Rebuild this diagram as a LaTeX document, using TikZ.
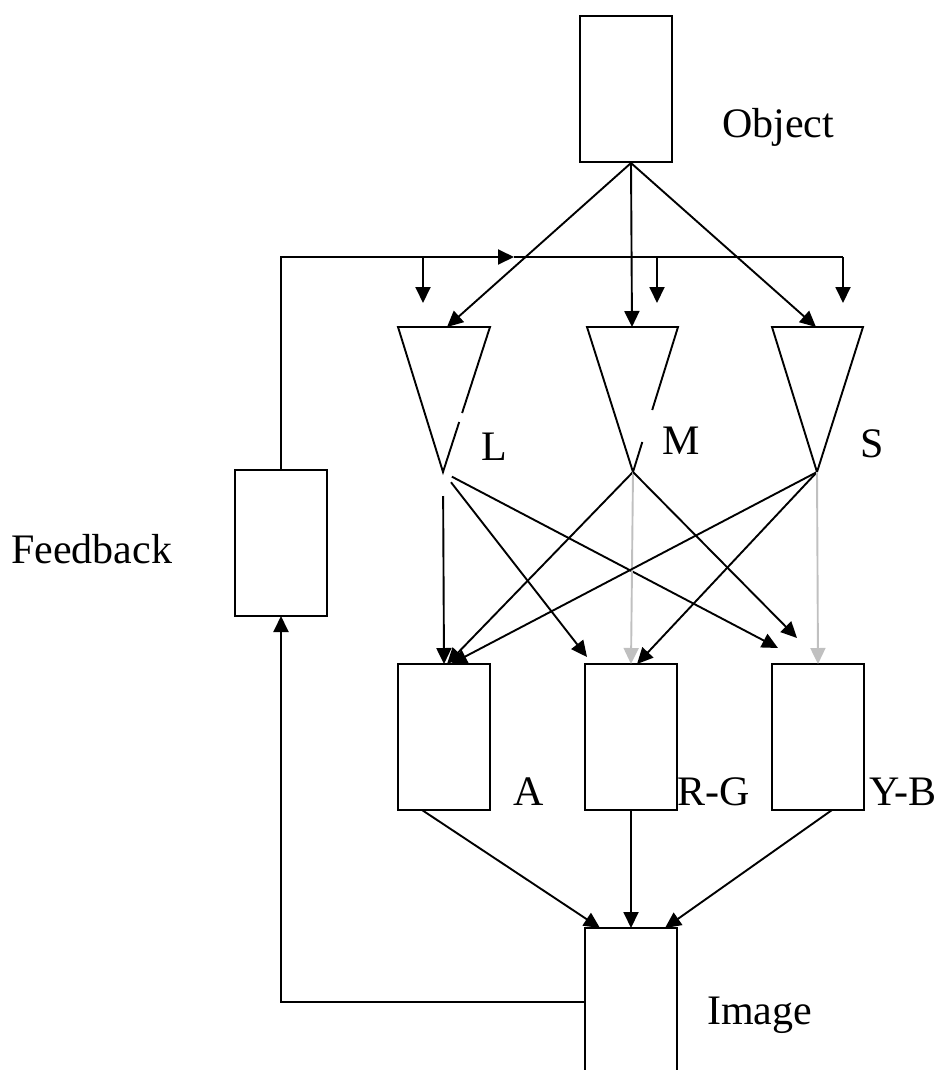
\documentclass[tikz,border=0pt]{standalone}
\usepackage{fontspec}
\setmainfont{Liberation Serif}
\usetikzlibrary{arrows.meta}
\definecolor{lightline}{RGB}{192,192,192}
\begin{document}
\begin{tikzpicture}[x=1pt,y=-1pt,
  box/.style={draw, line width=1.9pt, minimum width=92pt, minimum height=146pt,
    inner sep=0pt, outer sep=0pt, anchor=north west},
  edge/.style={line width=1.9pt},
  arr/.style={line width=1.9pt, -{Triangle[length=16pt,width=15pt]}},
  grayarr/.style={arr, draw=lightline, fill=lightline},
  lab/.style={anchor=base west, inner sep=0pt, font=\fontsize{42}{46}\selectfont}]
\useasboundingbox (0,0) rectangle (949,1070);
\clip (0,0) rectangle (949,1070);

% boxes
\node[box] (obj) at (580,16) {};
\node[box] (fb)  at (235,470) {};
\node[box] (A)   at (398,664) {};
\node[box] (RG)  at (585,664) {};
\node[box] (YB)  at (772,664) {};
\node[box, minimum height=170pt] (img) at (585,928) {};

% labels
\node[lab] (tObj) at (722,138) {Object};
\node[lab] (tFb)  at (11,563)  {Feedback};
\node[lab] (tL)   at (481,460) {L};
\node[lab] (tM)   at (662,454) {M};
\node[lab] (tS)   at (860,457) {S};
\node[lab] (tA)   at (513,805) {A};
\node[lab] (tRG)  at (677,805) {R-G};
\node[lab] (tYB)  at (869,805) {Y-B};
\node[lab] (tImg) at (707,1024) {Image};

% receptor triangles
\coordinate (Ltl) at (398,327); \coordinate (Ltr) at (490,327); \coordinate (Lapex) at (443,472);
\coordinate (Mtl) at (587,327); \coordinate (Mtr) at (678,327); \coordinate (Mapex) at (633,472);
\coordinate (Stl) at (772,327); \coordinate (Str) at (863,327); \coordinate (Sapex) at (817,472);
\draw[edge] (462.1,413) -- (Ltr) -- (Ltl) -- (Lapex) -- (459.2,422);
\draw[edge] (652.2,410) -- (Mtr) -- (Mtl) -- (Mapex) -- (642.3,442);
\draw[edge] (Sapex) -- (Str) -- (Stl) -- cycle;

% object to receptors
\coordinate (objout) at (631,163);
\coordinate (Ltop) at (447,327);
\coordinate (Mtop) at (632,327);
\coordinate (Stop) at (816,327);
\draw[arr] (objout) -- (Ltop);
\draw[arr] (objout) -- (Mtop);
\draw[arr] (objout) -- (Stop);

% feedback line across the top
\coordinate (fbmid) at (514,257);
\coordinate (fbend) at (843,257);
\coordinate (dL0) at (423,257); \coordinate (dL1) at (423,303);
\coordinate (dM0) at (657,257); \coordinate (dM1) at (657,303);
\coordinate (dS1) at (843,303);
\draw[arr] (fb.north) |- (fbmid);
\draw[edge] (fbmid) -- (fbend);
\draw[arr] (dL0) -- (dL1);
\draw[arr] (dM0) -- (dM1);
\draw[arr] (fbend) -- (dS1);

% receptors to opponent channels
\coordinate (LtoRG) at (587,657);
\coordinate (LtoYB) at (778,648);
\coordinate (MtoYB) at (797,638);
\draw[arr, shorten <=24pt] (Lapex) -- (A.north);
\draw[arr, shorten <=13pt] (Lapex) -- (LtoRG);
\draw[arr, shorten <=10pt] (Lapex) -- (LtoYB);
\draw[arr] (Mapex) -- ([xshift=3pt]A.north);
\draw[grayarr] (Mapex) -- (RG.north);
\draw[arr] (Mapex) -- (MtoYB);
\draw[arr] (Sapex) -- ([xshift=7pt]A.north);
\draw[arr] (Sapex) -- ([xshift=6pt]RG.north);
\draw[grayarr] (Sapex) -- (YB.north);

% channels to image
\coordinate (Aout) at (422,810);
\coordinate (YBout) at (832,810);
\draw[arr] (Aout) -- ([xshift=-31pt]img.north);
\draw[arr] (RG.south) -- (img.north);
\draw[arr] (YBout) -- ([xshift=34pt]img.north);

% feedback loop from the image
\coordinate (imgout) at (585,1002);
\draw[arr] (imgout) -| (fb.south);
\end{tikzpicture}
\end{document}
